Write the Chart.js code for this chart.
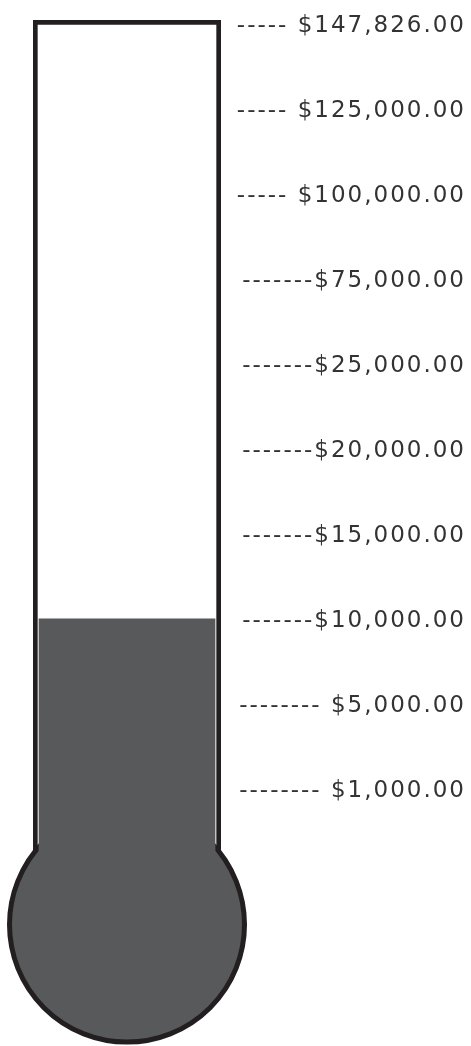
<!DOCTYPE html>
<html><head><meta charset="utf-8">
<script src="https://cdn.jsdelivr.net/npm/chart.js@4/dist/chart.umd.min.js"></script>
<style>html,body{margin:0;padding:0;background:#fff}</style>
</head><body>
<canvas id="c" width="471" height="1046"></canvas>
<script>
// ---- data ----
const goalLevels = [1000, 5000, 10000, 15000, 20000, 25000, 75000, 100000, 125000, 147826];
const goalLabels = ['$1,000.00', '$5,000.00', '$10,000.00', '$15,000.00', '$20,000.00', '$25,000.00', '$75,000.00', '$100,000.00', '$125,000.00', '$147,826.00'];
const leaderDashes = ['-------- ', '-------- ', '-------', '-------', '-------', '-------', '-------', '----- ', '----- ', '----- '];
const raised = 10000;
const categories = ['Raised'];

// thermometer geometry in level units (labels are evenly spaced, one level per label)
const topLevel = goalLevels.length - 1;
const raisedLevel = goalLevels.indexOf(raised);
const viewMax = topLevel + 0.035;
const viewMin = -3.027;
const tubeBottom = -0.75;
const bulbCenter = -1.6;

const INK = '#231f20';
const MERCURY = '#58595b';

const spacing = {
  id: 'spacing',
  beforeUpdate(chart) { chart.ctx.letterSpacing = '2px'; },
  beforeDraw(chart) { chart.ctx.letterSpacing = '2px'; }
};

new Chart(document.getElementById('c'), {
  type: 'bar',
  data: {
    labels: categories,
    datasets: [
      {
        label: 'Tube',
        data: [[tubeBottom, viewMax]],
        backgroundColor: '#ffffff',
        borderColor: INK,
        borderWidth: { left: 5, right: 5, top: 5, bottom: 0 },
        borderSkipped: false,
        barPercentage: 1,
        categoryPercentage: 1,
        grouped: false,
        order: 3
      },
      {
        type: 'bubble',
        label: 'Bulb',
        data: [{ x: categories[0], y: bulbCenter, r: 117.5 }],
        backgroundColor: MERCURY,
        borderColor: INK,
        borderWidth: 5,
        clip: false,
        order: 2
      },
      {
        label: 'Raised',
        data: [[bulbCenter, raisedLevel]],
        backgroundColor: MERCURY,
        borderWidth: 0,
        barPercentage: 0.94,
        categoryPercentage: 1,
        grouped: false,
        order: 1
      }
    ]
  },
  options: {
    responsive: false,
    devicePixelRatio: 1,
    animation: false,
    layout: { autoPadding: false, padding: { left: 33, top: 20, right: 5, bottom: 0 } },
    plugins: { legend: { display: false }, tooltip: { enabled: false } },
    scales: {
      x: { display: false },
      y: {
        position: 'right',
        min: viewMin,
        max: viewMax,
        grid: { display: false, drawTicks: false },
        border: { display: false },
        afterFit(scale) {
          scale.width = 245;
          scale.paddingTop = 0;
          scale.paddingBottom = 0;
        },
        afterBuildTicks(scale) { scale.ticks = goalLevels.map((v, i) => ({ value: i })); },
        ticks: {
          crossAlign: 'far',
          padding: 7,
          labelOffset: 3,
          color: '#333333',
          font: { family: 'DejaVu Sans', size: 23 },
          callback: (value, index) => leaderDashes[index] + goalLabels[index]
        }
      }
    }
  },
  plugins: [spacing]
});
</script>
</body></html>
